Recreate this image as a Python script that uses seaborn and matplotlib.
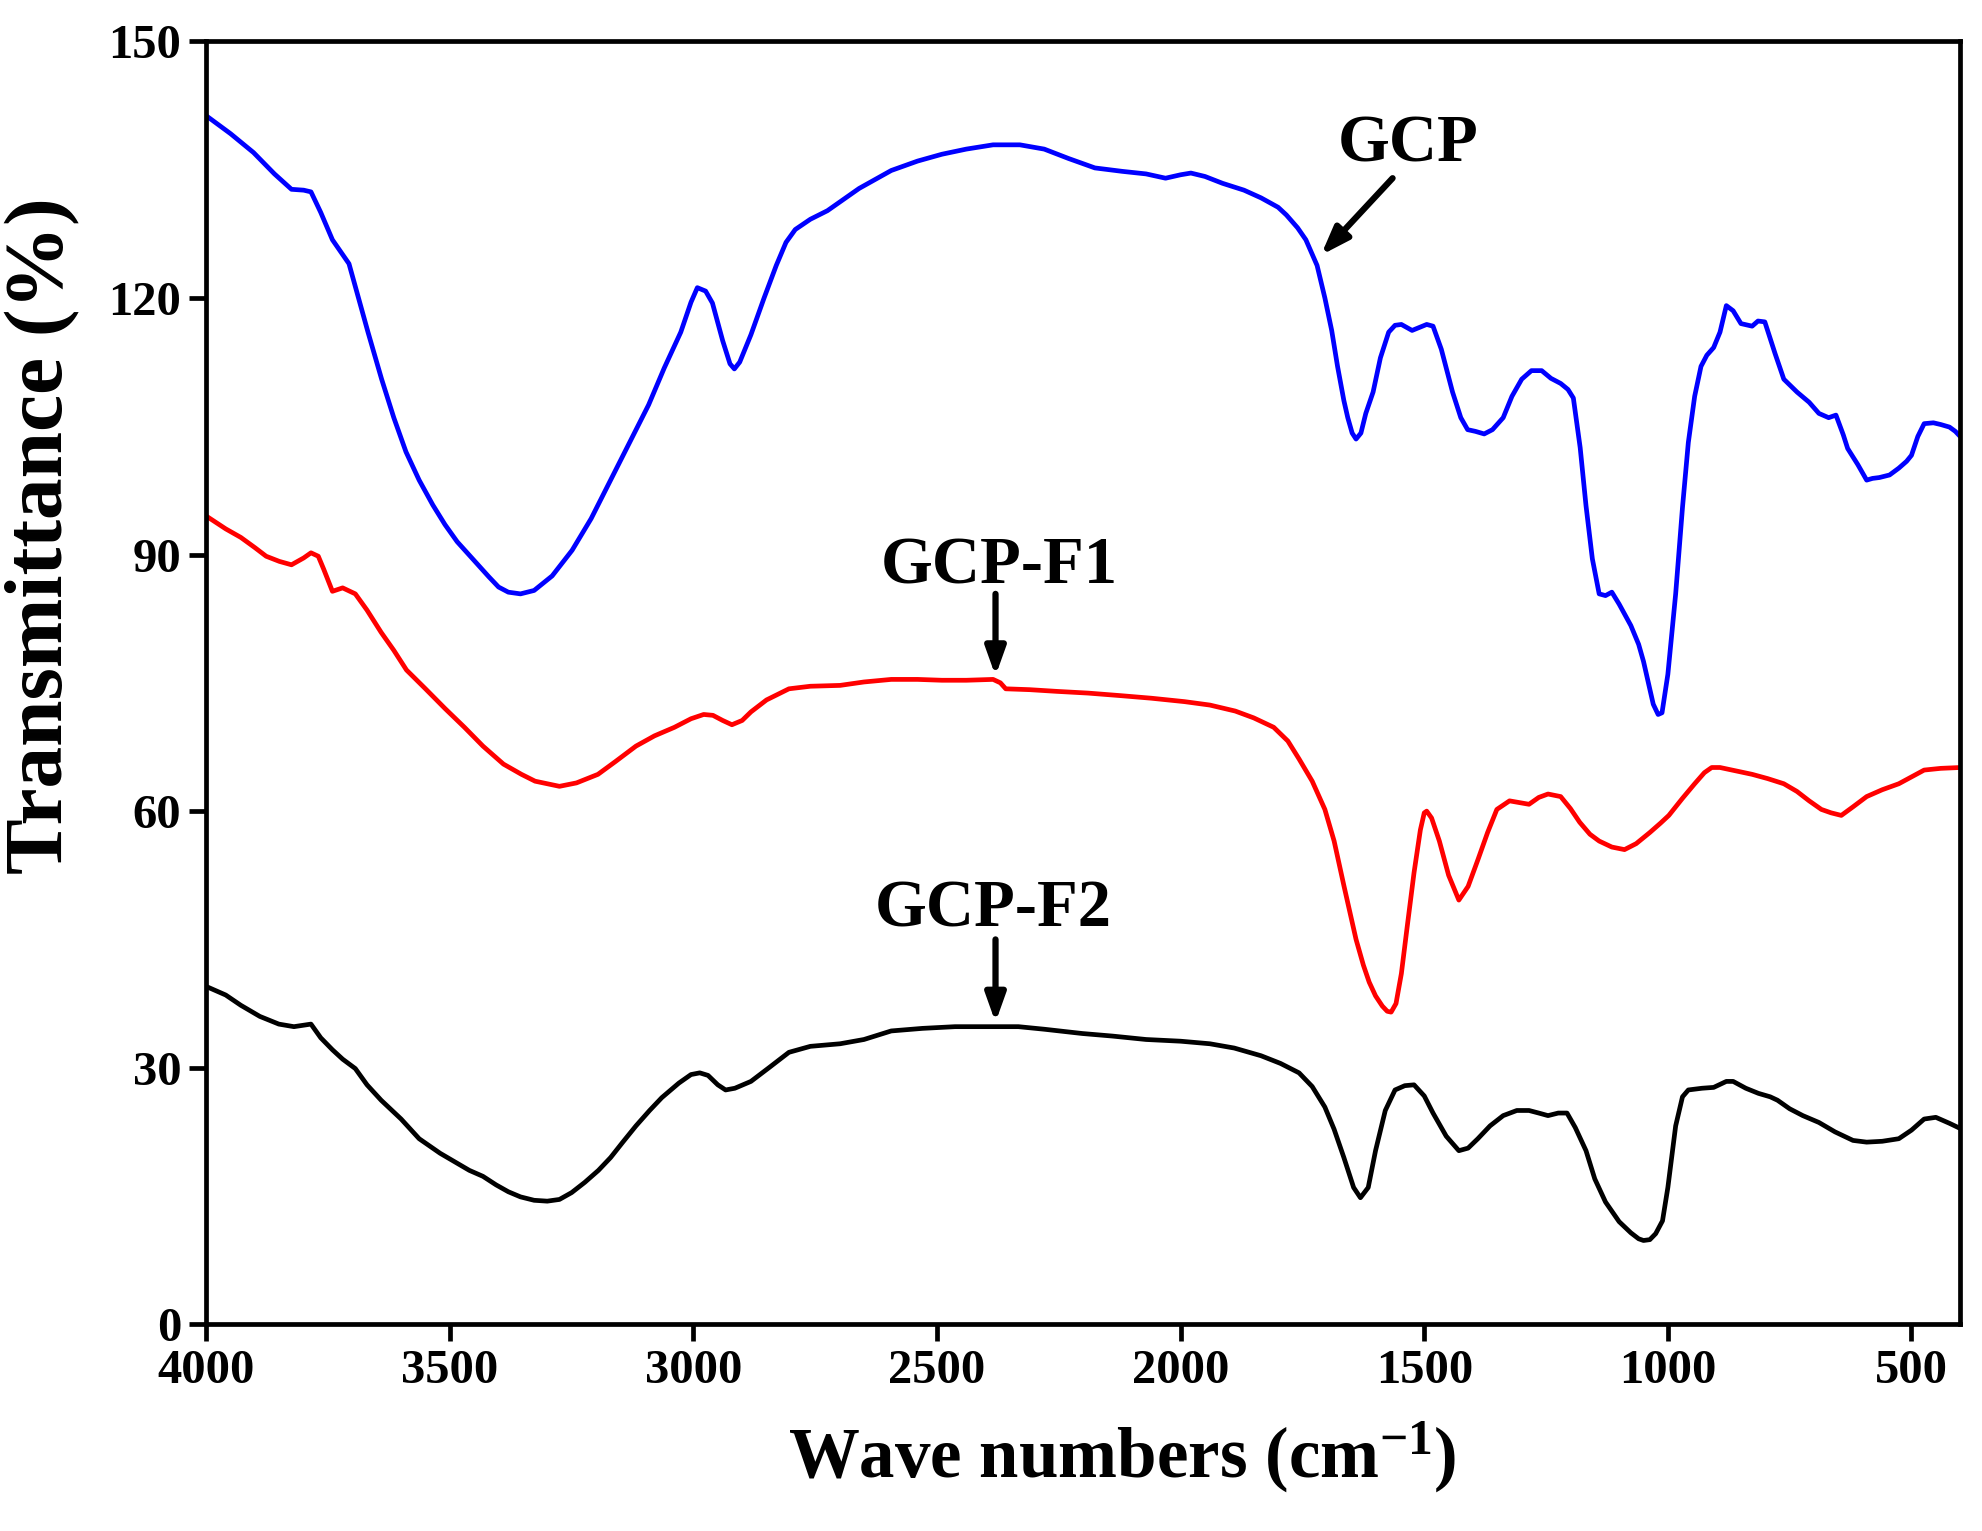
import numpy as np
import pandas as pd
import matplotlib
matplotlib.use("Agg")
import matplotlib.pyplot as plt
import seaborn as sns

# ---------------- data ----------------
gcp_wn = [4000, 3950, 3903, 3860, 3825, 3800, 3785, 3765, 3741, 3707, 3690, 3668, 3640, 3615,
          3590, 3563, 3535, 3510, 3485, 3458, 3420, 3400, 3380, 3355, 3327, 3290, 3249, 3210,
          3170, 3130, 3092, 3060, 3026, 3005, 2992, 2975, 2961, 2940, 2925, 2916, 2905, 2882,
          2855, 2830, 2810, 2791, 2760, 2725, 2660, 2594, 2540, 2490, 2440, 2385, 2330, 2280,
          2230, 2176, 2120, 2071, 2031, 2000, 1979, 1950, 1914, 1870, 1835, 1800, 1783, 1760,
          1743, 1720, 1704, 1690, 1678, 1665, 1657, 1648, 1640, 1630, 1620, 1605, 1590, 1573,
          1560, 1547, 1525, 1508, 1495, 1482, 1465, 1442, 1425, 1411, 1395, 1377, 1360, 1338,
          1320, 1300, 1280, 1259, 1240, 1220, 1205, 1194, 1180, 1168, 1155, 1141, 1128, 1115,
          1100, 1076, 1060, 1050, 1040, 1030, 1020, 1012, 1000, 984, 970, 958, 945, 932, 920,
          906, 893, 880, 866, 850, 827, 815, 801, 780, 762, 735, 710, 690, 670, 655, 640, 631,
          610, 592, 580, 566, 545, 526, 510, 500, 487, 474, 455, 440, 422, 410, 400]
gcp_t = [141.3, 139.2, 137.0, 134.5, 132.7, 132.6, 132.4, 130.0, 126.8, 124.0, 120.5, 116.0, 110.5, 106.0,
         102.0, 98.7, 95.8, 93.5, 91.5, 89.8, 87.4, 86.2, 85.6, 85.4, 85.8, 87.5, 90.5, 94.2,
         98.7, 103.2, 107.5, 111.8, 116.0, 119.5, 121.2, 120.8, 119.4, 115.0, 112.3, 111.7, 112.5, 115.7,
         120.0, 123.8, 126.5, 128.0, 129.2, 130.2, 132.8, 134.9, 136.0, 136.8, 137.4, 137.9, 137.9, 137.4,
         136.3, 135.2, 134.8, 134.5, 134.0, 134.4, 134.6, 134.2, 133.4, 132.6, 131.7, 130.6, 129.7, 128.2,
         126.8, 123.8, 120.0, 116.2, 112.0, 108.0, 106.0, 104.2, 103.5, 104.2, 106.5, 109.0, 113.0, 116.0,
         116.8, 116.9, 116.2, 116.6, 116.9, 116.7, 114.0, 109.0, 106.0, 104.6, 104.4, 104.1, 104.6, 106.0,
         108.5, 110.5, 111.5, 111.5, 110.6, 110.0, 109.3, 108.3, 102.5, 95.7, 89.5, 85.4, 85.2, 85.6,
         84.2, 81.7, 79.5, 77.5, 75.0, 72.5, 71.3, 71.5, 76.0, 85.4, 95.5, 103.1, 108.5, 112.0, 113.3,
         114.2, 116.0, 119.1, 118.5, 117.0, 116.7, 117.3, 117.2, 113.5, 110.5, 109.0, 107.8, 106.5, 106.0, 106.3, 104.0, 102.4,
         100.5, 98.7, 98.9, 99.0, 99.3, 100.1, 100.9, 101.6, 103.8, 105.3, 105.4, 105.2, 104.9, 104.4, 103.8]

f1_wn = [4000, 3960, 3929, 3900, 3877, 3850, 3825, 3800, 3785, 3770, 3759, 3741, 3720, 3694,
         3670, 3641, 3615, 3589, 3550, 3510, 3470, 3432, 3390, 3353, 3325, 3300, 3275, 3240,
         3196, 3160, 3118, 3080, 3039, 3005, 2979, 2960, 2940, 2921, 2900, 2882, 2850, 2804,
         2760, 2699, 2650, 2594, 2540, 2490, 2440, 2385, 2370, 2359, 2310, 2254, 2190, 2123,
         2060, 1992, 1940, 1888, 1850, 1809, 1780, 1757, 1730, 1704, 1685, 1665, 1650, 1640,
         1625, 1613, 1600, 1586, 1576, 1568, 1558, 1547, 1535, 1521, 1508, 1500, 1495, 1485,
         1469, 1450, 1429, 1410, 1390, 1370, 1351, 1325, 1305, 1285, 1265, 1246, 1220, 1200,
         1181, 1160, 1141, 1115, 1089, 1065, 1037, 1015, 998, 970, 945, 925, 910, 893, 860,
         827, 795, 762, 735, 710, 685, 665, 644, 620, 592, 560, 526, 500, 474, 440, 400]
f1_t = [94.5, 93.0, 92.0, 90.8, 89.8, 89.2, 88.8, 89.6, 90.2, 89.8, 88.3, 85.7, 86.1, 85.4,
        83.5, 80.9, 78.8, 76.5, 74.3, 72.0, 69.8, 67.6, 65.5, 64.3, 63.5, 63.2, 62.9, 63.3,
        64.3, 65.8, 67.6, 68.8, 69.8, 70.8, 71.3, 71.2, 70.6, 70.1, 70.6, 71.6, 73.0, 74.3,
        74.6, 74.7, 75.1, 75.4, 75.4, 75.3, 75.3, 75.4, 75.0, 74.3, 74.2, 74.0, 73.8, 73.5,
        73.2, 72.8, 72.4, 71.7, 70.9, 69.8, 68.2, 66.1, 63.5, 60.2, 56.5, 51.3, 47.5, 45.0,
        42.0, 40.0, 38.4, 37.2, 36.6, 36.5, 37.5, 41.0, 46.5, 52.8, 57.8, 59.8, 60.0, 59.2,
        56.5, 52.5, 49.6, 51.2, 54.3, 57.5, 60.2, 61.2, 61.0, 60.8, 61.6, 62.0, 61.7, 60.3,
        58.7, 57.3, 56.5, 55.8, 55.5, 56.2, 57.5, 58.6, 59.5, 61.5, 63.2, 64.5, 65.1, 65.1, 64.7,
        64.3, 63.8, 63.2, 62.3, 61.2, 60.2, 59.8, 59.5, 60.5, 61.7, 62.5, 63.2, 64.0, 64.8, 65.0, 65.1]

f2_wn = [4000, 3960, 3929, 3890, 3851, 3820, 3785, 3765, 3741, 3720, 3694, 3670, 3641, 3600,
         3563, 3520, 3484, 3460, 3432, 3405, 3380, 3355, 3327, 3300, 3275, 3250, 3223, 3195,
         3170, 3145, 3118, 3090, 3065, 3030, 3005, 2987, 2970, 2950, 2934, 2915, 2882, 2845,
         2804, 2760, 2699, 2650, 2594, 2530, 2463, 2400, 2333, 2280, 2202, 2140, 2071, 2000,
         1940, 1890, 1835, 1795, 1757, 1730, 1704, 1685, 1665, 1645, 1631, 1615, 1600, 1580,
         1560, 1540, 1521, 1500, 1482, 1455, 1429, 1410, 1390, 1365, 1338, 1310, 1285, 1265,
         1246, 1225, 1207, 1190, 1168, 1150, 1128, 1100, 1076, 1060, 1050, 1037, 1025, 1011,
         1000, 984, 970, 958, 930, 906, 880, 866, 840, 814, 790, 775, 750, 723, 690, 657, 620,
         592, 560, 526, 500, 474, 450, 422, 400]
f2_t = [39.5, 38.5, 37.3, 36.0, 35.1, 34.8, 35.1, 33.5, 32.1, 31.0, 29.9, 28.0, 26.2, 24.0,
        21.7, 20.0, 18.8, 18.0, 17.3, 16.3, 15.5, 14.9, 14.5, 14.4, 14.6, 15.4, 16.6, 18.0,
        19.5, 21.3, 23.2, 25.0, 26.5, 28.2, 29.2, 29.4, 29.1, 28.0, 27.4, 27.6, 28.4, 30.0,
        31.8, 32.5, 32.8, 33.3, 34.3, 34.6, 34.8, 34.8, 34.8, 34.5, 34.0, 33.7, 33.3, 33.1,
        32.8, 32.3, 31.4, 30.5, 29.4, 27.8, 25.4, 22.8, 19.5, 16.0, 14.8, 16.0, 20.3, 25.0,
        27.4, 27.9, 28.0, 26.7, 24.7, 22.0, 20.3, 20.6, 21.7, 23.2, 24.4, 25.0, 25.0, 24.7,
        24.4, 24.7, 24.7, 23.0, 20.3, 17.0, 14.3, 12.0, 10.7, 10.0, 9.8, 9.9, 10.6, 12.1,
        16.0, 23.2, 26.6, 27.4, 27.6, 27.7, 28.4, 28.4, 27.6, 27.0, 26.6, 26.2, 25.2, 24.4, 23.6, 22.5, 21.5,
        21.3, 21.4, 21.7, 22.7, 24.0, 24.2, 23.5, 22.9]

series_names = ["GCP", "GCP-F1", "GCP-F2"]
series_colors = ["#0000ff", "#ff0000", "#000000"]

x_ticks = [4000, 3500, 3000, 2500, 2000, 1500, 1000, 500]
y_ticks = [0, 30, 60, 90, 120, 150]

# ---------------- style ----------------
sns.set_theme(style="ticks", rc={"text.color": "black", "axes.labelcolor": "black",
                                 "xtick.color": "black", "ytick.color": "black",
                                 "axes.edgecolor": "black"})
plt.rcParams["font.family"] = ["Liberation Serif", "DejaVu Serif"]
plt.rcParams["font.weight"] = "bold"
plt.rcParams["mathtext.default"] = "regular"

fig = plt.figure(figsize=(19.83, 15.31), dpi=100)
ax = fig.add_axes([0.104, 0.135, 0.8845, 0.838])

frames = []
for name, wn, t in zip(series_names, [gcp_wn, f1_wn, f2_wn], [gcp_t, f1_t, f2_t]):
    frames.append(pd.DataFrame({"wn": wn, "T": t, "sample": name}))
df = pd.concat(frames, ignore_index=True)

sns.lineplot(data=df, x="wn", y="T", hue="sample", palette=dict(zip(series_names, series_colors)),
             linewidth=3.4, ax=ax, legend=False, sort=False, estimator=None)

ax.set_xlim(4000, 400)
ax.set_ylim(0, 150)
ax.set_xticks(x_ticks)
ax.set_yticks(y_ticks)
ax.tick_params(axis="both", which="major", direction="out", length=12, width=3.4,
               labelsize=35, pad=6, colors="black")
for lab in ax.get_xticklabels() + ax.get_yticklabels():
    lab.set_fontweight("bold")
for sp in ax.spines.values():
    sp.set_linewidth(3.4)
    sp.set_color("black")

ax.set_xlabel("Wave numbers (cm$^{-1}$)", fontsize=51, fontweight="bold")
ax.set_ylabel("Transmittance (%)", fontsize=60, fontweight="bold")
ax.xaxis.set_label_coords(0.522, -0.074)
ax.yaxis.set_label_coords(-0.072, 0.615)

arrow_kw = dict(arrowstyle="-|>,head_length=1.4,head_width=0.5", lw=4.5, color="black",
                shrinkA=0, shrinkB=0)
# GCP
ax.text(1534, 137.9, "GCP", fontsize=48, fontweight="bold", ha="center", va="center")
ax.annotate("", xy=(1712, 125.0), xytext=(1565, 134.0), arrowprops=arrow_kw)
# GCP-F1
ax.text(2372, 88.6, "GCP-F1", fontsize=48, fontweight="bold", ha="center", va="center")
ax.annotate("", xy=(2380, 75.8), xytext=(2380, 85.4), arrowprops=arrow_kw)
# GCP-F2
ax.text(2385, 48.4, "GCP-F2", fontsize=48, fontweight="bold", ha="center", va="center")
ax.annotate("", xy=(2380, 35.3), xytext=(2380, 45.0), arrowprops=arrow_kw)

fig.savefig("out.png", dpi=100, facecolor="white")
